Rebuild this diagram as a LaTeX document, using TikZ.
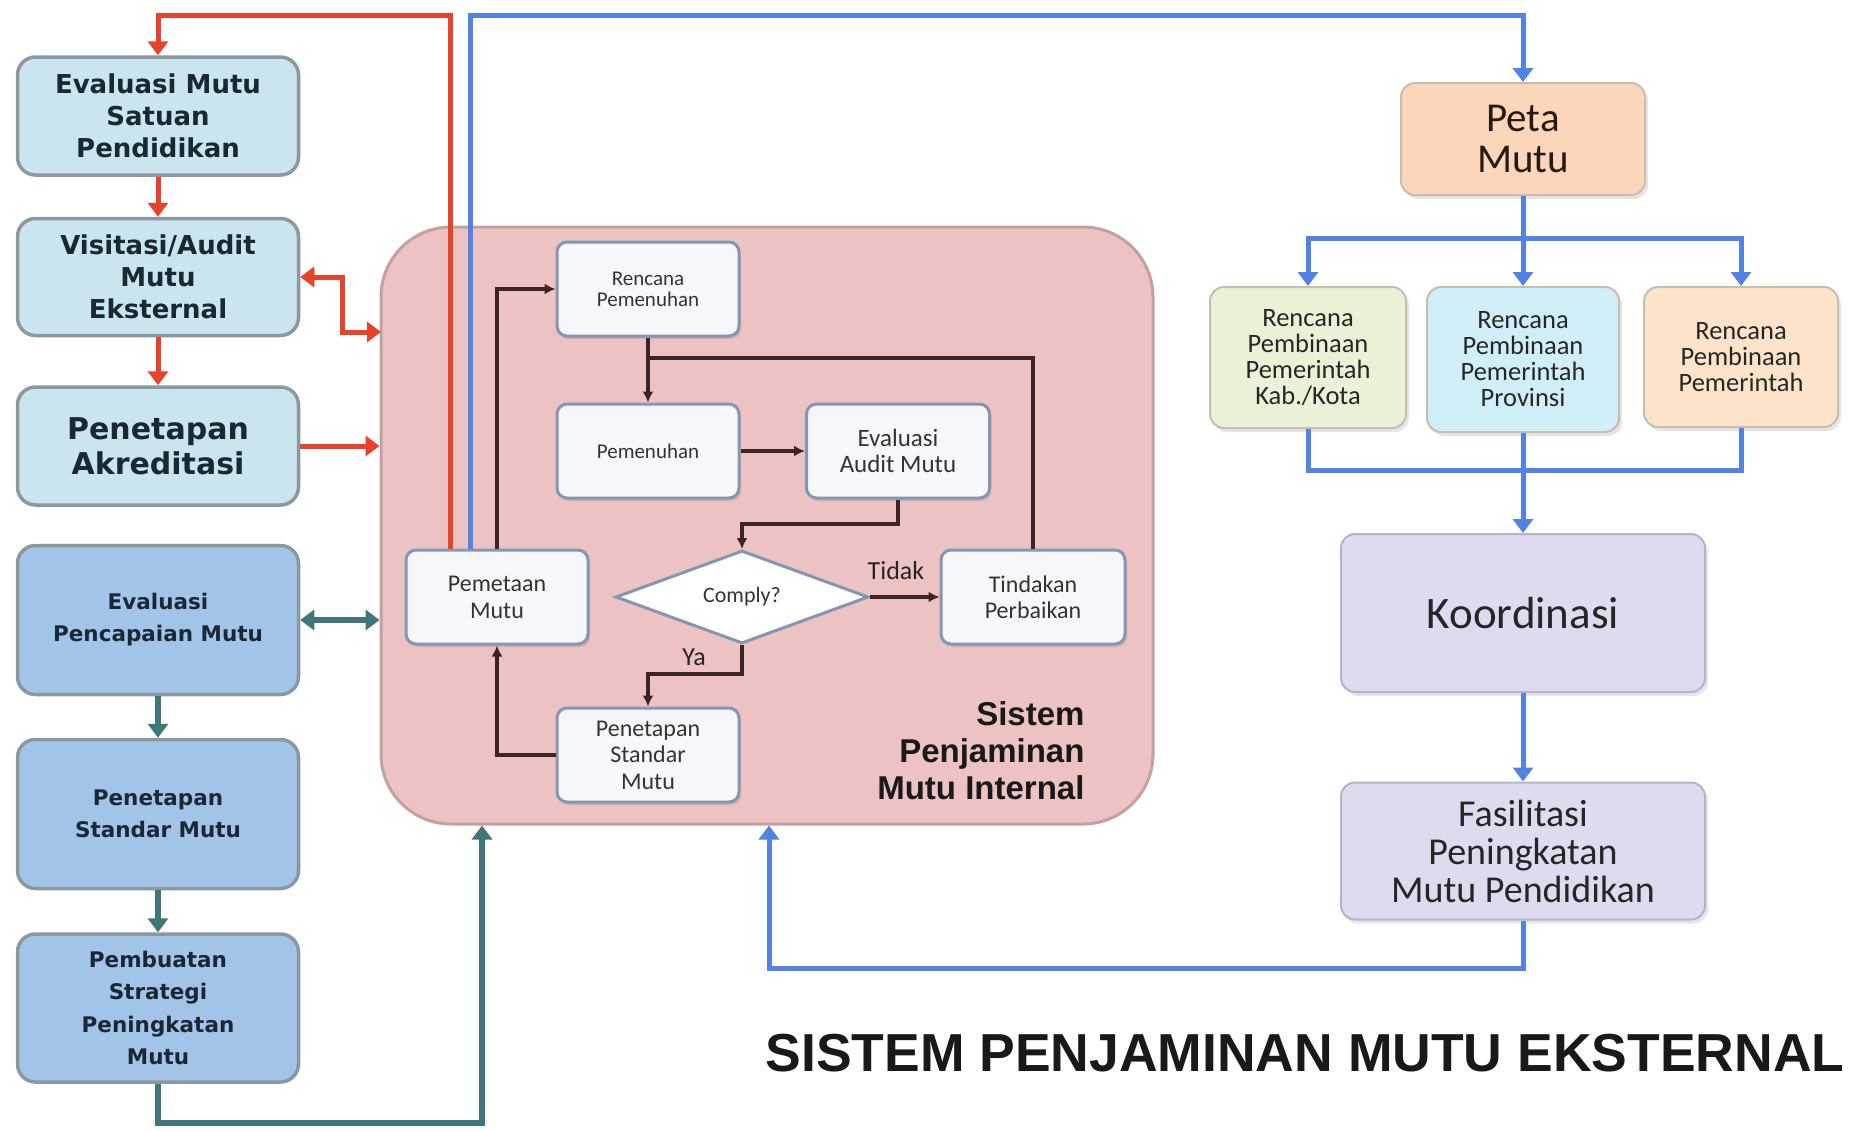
\documentclass[tikz,border=0pt]{standalone}
\usepackage{fontspec}
\usetikzlibrary{arrows.meta,shapes.geometric,shadows,calc}
\newfontfamily\lefttxt{DejaVu Sans}
\newfontfamily\calfont{Carlito}
\newfontfamily\arialfont{Liberation Sans}
\definecolor{redc}{RGB}{232,66,42}
\definecolor{bluec}{RGB}{82,130,228}
\definecolor{tealc}{RGB}{62,118,122}
\definecolor{darkc}{RGB}{60,36,36}
\definecolor{contfill}{RGB}{236,194,194}
\definecolor{contbord}{RGB}{196,160,160}
\definecolor{ltfill}{RGB}{202,229,237}
\definecolor{lbfill}{RGB}{162,196,232}
\definecolor{lbord}{RGB}{140,152,160}
\definecolor{ltext}{RGB}{25,40,52}
\definecolor{infill}{RGB}{245,247,251}
\definecolor{inbord}{RGB}{132,150,180}
\definecolor{petafill}{RGB}{251,214,186}
\definecolor{kabfill}{RGB}{233,241,214}
\definecolor{provfill}{RGB}{208,238,247}
\definecolor{pemfill}{RGB}{252,227,202}
\definecolor{lavfill}{RGB}{223,219,238}
\definecolor{lavbord}{RGB}{182,178,202}
\definecolor{rbord}{RGB}{200,190,175}
\tikzset{
  leftbox/.style={draw=lbord, line width=3.5pt, rounded corners=18pt, minimum width=281pt, inner sep=0pt, align=center, text=ltext},
  inbox/.style={draw=inbord, line width=3pt, fill=infill, rounded corners=10pt, minimum width=182pt, minimum height=94pt, inner sep=0pt, align=center, text=black!80, drop shadow={shadow xshift=2pt, shadow yshift=-3pt, opacity=0.25}},
  rbox/.style={line width=2pt, rounded corners=14pt, inner sep=0pt, align=center, text=black!85, drop shadow={shadow xshift=3pt, shadow yshift=-4pt, opacity=0.2}},
  redline/.style={draw=redc, line width=5pt},
  blueline/.style={draw=bluec, line width=5pt},
  tealline/.style={draw=tealc, line width=5.5pt},
  tipend/.style={-{Triangle[width=20pt,length=14pt]}},
  dbl/.style={{Triangle[width=20pt,length=14pt]}-{Triangle[width=20pt,length=14pt]}},
  inline/.style={draw=darkc, line width=3.8pt},
  intip/.style={-{Latex[length=11pt,width=11pt]}},
}
\begin{document}
\begin{tikzpicture}[x=1pt,y=-1pt]
\fill[white] (0,0) rectangle (1854,1130);
\useasboundingbox (0,0) rectangle (1854,1130);

% ---- SPMI container
\node[draw=contbord, fill=contfill, line width=3pt, rounded corners=70pt, minimum width=772pt, minimum height=597pt, inner sep=0pt] (spmi) at (767,525.5) {};

% ---- left column
\node[leftbox, fill=ltfill, minimum height=118pt, font={\lefttxt\bfseries\fontsize{26}{32}\selectfont}] (e1) at (158,116) {Evaluasi Mutu\\Satuan\\Pendidikan};
\node[leftbox, fill=ltfill, minimum height=117pt, font={\lefttxt\bfseries\fontsize{26}{32}\selectfont}] (e2) at (158,277) {Visitasi/Audit\\Mutu\\Eksternal};
\node[leftbox, fill=ltfill, minimum height=118pt, font={\lefttxt\bfseries\fontsize{30}{35}\selectfont}] (e3) at (158,446) {Penetapan\\Akreditasi};
\node[leftbox, fill=lbfill, minimum height=149pt, font={\lefttxt\bfseries\fontsize{21.5}{32}\selectfont}] (e4) at (158,620) {Evaluasi\\Pencapaian Mutu};
\node[leftbox, fill=lbfill, minimum height=149pt, font={\lefttxt\bfseries\fontsize{21.5}{32}\selectfont}] (e5) at (158,814) {Penetapan\\Standar Mutu};
\node[leftbox, fill=lbfill, minimum height=148pt, font={\lefttxt\bfseries\fontsize{21.5}{32.5}\selectfont}] (e6) at (158,1008) {Pembuatan\\Strategi\\Peningkatan\\Mutu};

% ---- inner flow
\node[inbox, font={\calfont\fontsize{21}{21}\selectfont}] (rp) at (648,289) {Rencana\\Pemenuhan};
\node[inbox, font={\calfont\fontsize{21}{21}\selectfont}] (pm) at (648,451) {Pemenuhan};
\node[inbox, minimum width=183pt, font={\calfont\fontsize{25}{26}\selectfont}] (eam) at (898,451) {Evaluasi\\Audit Mutu};
\node[inbox, font={\calfont\fontsize{24}{27}\selectfont}] (pet) at (497,597) {Pemetaan\\Mutu};
\node[diamond, draw=inbord, line width=3pt, fill=white, minimum width=253pt, minimum height=93pt, aspect=2.7, inner sep=0pt, text=black!80, font={\calfont\fontsize{22}{24}\selectfont}] (cmp) at (742,597) {Comply?};
\node[inbox, minimum width=184pt, font={\calfont\fontsize{24}{26}\selectfont}] (tp) at (1033,597) {Tindakan\\Perbaikan};
\node[inbox, font={\calfont\fontsize{24}{26.5}\selectfont}] (psm) at (648,755) {Penetapan\\Standar\\Mutu};

\node[anchor=east, align=right, text=black!90, font={\arialfont\bfseries\fontsize{33}{37}\selectfont}] (spmilabel) at (1088,751) {Sistem\\Penjaminan\\Mutu Internal};

\coordinate (j1) at (648,358);
\coordinate (j2) at (898,524);
\coordinate (j3) at (742,674);
\draw[inline, intip] (pet.north) |- (rp.west);
\draw[inline, intip] (rp.south) -- (pm.north);
\draw[inline] (tp.north) |- (j1);
\draw[inline, intip] (pm.east) -- (eam.west);
\draw[inline, intip] (eam.south) -- (j2) -| (cmp.north);
\draw[inline, intip] (cmp.east) -- (tp.west);
\node[text=black!85, font={\calfont\fontsize{26}{28}\selectfont}] (tidak) at (896,571) {Tidak};
\draw[inline, intip] (cmp.south) -- (j3) -| (psm.north);
\node[text=black!85, font={\calfont\fontsize{26}{28}\selectfont}] (ya) at (694,657) {Ya};
\draw[inline, intip] (psm.west) -| (pet.south);

% ---- right column
\node[rbox, draw=rbord, fill=petafill, minimum width=244pt, minimum height=112pt, text=black!80!brown, font={\calfont\fontsize{41}{41}\selectfont}] (peta) at (1523,139) {Peta\\Mutu};
\node[rbox, draw=rbord, fill=kabfill, minimum width=196pt, minimum height=141pt, font={\calfont\fontsize{26.5}{26}\selectfont}] (kab) at (1308,357.5) {Rencana\\Pembinaan\\Pemerintah\\Kab./Kota};
\node[rbox, draw=rbord, fill=provfill, minimum width=192pt, minimum height=145pt, font={\calfont\fontsize{26.5}{26}\selectfont}] (prov) at (1523,359.5) {Rencana\\Pembinaan\\Pemerintah\\Provinsi};
\node[rbox, draw=rbord, fill=pemfill, minimum width=194pt, minimum height=140pt, font={\calfont\fontsize{26.5}{26}\selectfont}] (pem) at (1741,357) {Rencana\\Pembinaan\\Pemerintah};
\node[rbox, draw=lavbord, fill=lavfill, minimum width=364pt, minimum height=158pt, font={\calfont\fontsize{45}{48}\selectfont}] (koor) at (1523,613) {Koordinasi};
\node[rbox, draw=lavbord, fill=lavfill, minimum width=364pt, minimum height=137pt, font={\calfont\fontsize{38}{38}\selectfont}] (fas) at (1523,851) {Fasilitasi\\Peningkatan\\Mutu Pendidikan};

\node[anchor=base, text=black!90, font={\arialfont\bfseries\fontsize{53.5}{58}\selectfont}] (title) at (1305,1071) {SISTEM PENJAMINAN MUTU EKSTERNAL};

% ---- left connectors
\coordinate (rtop) at (450,15);
\coordinate (btop) at (470,15);
\coordinate (a2) at (381,332);
\coordinate (tb) at (482,1123);
\draw[redline, tipend] (pet.north -| rtop) -- (rtop) -| (e1.north);
\draw[redline, tipend] (e1.south) -- (e2.north);
\draw[redline, tipend] (e2.south) -- (e3.north);
\draw[redline, dbl] (e2.east) -- ++(42,0) |- (a2);
\draw[redline, tipend] (e3.east) -- (e3.east -| spmi.west);
\draw[tealline, dbl] (e4.east) -- (e4.east -| spmi.west);
\draw[tealline, tipend] (e4.south) -- (e5.north);
\draw[tealline, tipend] (e5.south) -- (e6.north);
\draw[tealline, tipend] (e6.south) |- (tb) -- (tb |- spmi.south);

% ---- blue connectors
\coordinate (br) at (1523,238);
\coordinate (mg) at (1523,470);
\coordinate (fb) at (769,968);
\draw[blueline, tipend] (pet.north -| btop) -- (btop) -| (peta.north);
\draw[blueline] (peta.south) -- (br);
\draw[blueline, tipend] (br) -| (kab.north);
\draw[blueline, tipend] (br) -| (pem.north);
\draw[blueline, tipend] (br) -- (prov.north);
\draw[blueline] (kab.south) |- (mg);
\draw[blueline] (pem.south) |- (mg);
\draw[blueline, tipend] (prov.south) -- (koor.north);
\draw[blueline, tipend] (koor.south) -- (fas.north);
\draw[blueline, tipend] (fas.south) |- (fb) -- (fb |- spmi.south);
\end{tikzpicture}
\end{document}
